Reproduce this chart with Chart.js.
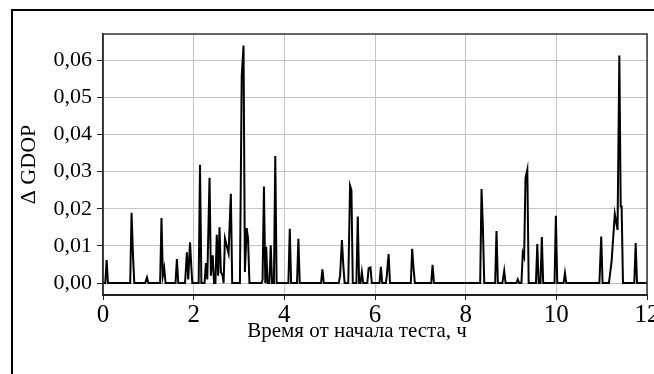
<!DOCTYPE html>
<html>
<head>
<meta charset="utf-8">
<script src="https://cdn.jsdelivr.net/npm/chart.js@4.4.1/dist/chart.umd.min.js"></script>
<style>
  html, body { margin: 0; padding: 0; background: #fff; }
  #wrap { width: 654px; height: 374px; position: relative; }
</style>
</head>
<body>
<div id="wrap"><canvas id="gdopChart" width="654" height="374"></canvas></div>
<script>
// time since test start, hours
const hours = [
  0, 0.05, 0.08, 0.11, 0.60, 0.63, 0.66, 0.69, 0.93, 0.97, 1.00,
  1.26, 1.29, 1.32, 1.35, 1.38, 1.60, 1.63, 1.66, 1.81, 1.85, 1.88, 1.92, 1.95, 1.97,
  2.11, 2.14, 2.17, 2.24, 2.27, 2.30, 2.35, 2.38, 2.42, 2.45, 2.48, 2.51, 2.54, 2.57,
  2.60, 2.64, 2.66, 2.69, 2.72, 2.77, 2.82, 2.85,
  3.02, 3.06, 3.10, 3.13, 3.17, 3.20, 3.23, 3.50, 3.52, 3.55, 3.58, 3.60, 3.63,
  3.67, 3.70, 3.73, 3.77, 3.80, 3.83,
  4.09, 4.12, 4.15, 4.28, 4.31, 4.34, 4.81, 4.84, 4.87,
  5.20, 5.23, 5.27, 5.30, 5.33, 5.41, 5.45, 5.48, 5.51, 5.59, 5.62, 5.65,
  5.68, 5.71, 5.74, 5.83, 5.86, 5.90, 5.93,
  6.10, 6.13, 6.16, 6.24, 6.26, 6.30, 6.33, 6.79, 6.82, 6.85, 6.88,
  7.24, 7.27, 7.30,
  8.32, 8.35, 8.38, 8.41, 8.65, 8.68, 8.71, 8.81, 8.85, 8.88,
  9.12, 9.15, 9.18, 9.23, 9.26, 9.29, 9.32, 9.36, 9.39, 9.55, 9.58, 9.61,
  9.65, 9.68, 9.71, 9.96, 9.99, 10.02,
  10.16, 10.19, 10.22, 10.95, 10.99, 11.02,
  11.16, 11.22, 11.29, 11.35, 11.39, 11.42, 11.44, 11.47, 11.72, 11.75, 11.78, 12
];

// Δ GDOP values
const deltaGdop = [
  0, 0, 0.0062, 0, 0, 0.0189, 0.008, 0, 0, 0.0015, 0,
  0, 0.0175, 0.002, 0.004, 0, 0, 0.0065, 0, 0, 0.0083, 0.001, 0.011, 0.004, 0,
  0, 0.0318, 0, 0, 0.0054, 0.001, 0.0283, 0.002, 0.0075, 0, 0, 0.013, 0.002, 0.015,
  0.003, 0.002, 0, 0.012, 0.0105, 0.008, 0.024, 0,
  0, 0.0556, 0.0639, 0.003, 0.0148, 0.012, 0, 0, 0.001, 0.026, 0, 0.0098, 0,
  0, 0.0102, 0, 0, 0.0342, 0,
  0, 0.0146, 0, 0, 0.0119, 0, 0, 0.0037, 0,
  0, 0.002, 0.0116, 0.005, 0, 0, 0.0262, 0.025, 0, 0, 0.0179, 0,
  0, 0.003, 0, 0, 0.004, 0.0042, 0,
  0, 0.0044, 0, 0, 0.002, 0.0078, 0, 0, 0.0092, 0.004, 0,
  0, 0.0049, 0,
  0, 0.0253, 0.015, 0, 0, 0.014, 0, 0, 0.0033, 0,
  0, 0.001, 0, 0, 0.0081, 0.007, 0.0283, 0.0305, 0, 0, 0.0105, 0,
  0, 0.0124, 0, 0, 0.0181, 0,
  0, 0.0027, 0, 0, 0.0125, 0,
  0, 0.006, 0.0186, 0.0143, 0.0612, 0.0206, 0.0206, 0, 0, 0.0108, 0, 0
];

const xTicks = [0, 2, 4, 6, 8, 10, 12];
const yTicks = [0, 0.01, 0.02, 0.03, 0.04, 0.05, 0.06];
const xTitle = 'Время от начала теста, ч';

const serif = 'Liberation Serif, Times New Roman, serif';

// outer frame, plot border, x-axis title (sits a bit left of centre in the original)
const framePlugin = {
  id: 'frame',
  beforeDraw(chart) {
    const ctx = chart.ctx;
    ctx.save();
    ctx.fillStyle = '#fff';
    ctx.fillRect(0, 0, chart.width, chart.height);
    ctx.strokeStyle = '#000';
    ctx.lineWidth = 2;
    ctx.strokeRect(12, 10, 700, 420);
    ctx.restore();
  },
  afterDatasetsDraw(chart) {
    const a = chart.chartArea;
    const ctx = chart.ctx;
    ctx.save();
    ctx.strokeStyle = '#333';
    ctx.lineWidth = 1.5;
    ctx.beginPath();
    ctx.moveTo(a.left, a.bottom);
    ctx.lineTo(a.left, a.top);
    ctx.lineTo(a.right, a.top);
    ctx.lineTo(a.right, a.bottom);
    ctx.stroke();

    ctx.fillStyle = '#000';
    ctx.font = '21px ' + serif;
    ctx.textAlign = 'center';
    ctx.textBaseline = 'middle';
    ctx.fillText(xTitle, a.left + (a.right - a.left) * 0.467, 331);
    ctx.restore();
  }
};

const ctx = document.getElementById('gdopChart').getContext('2d');
new Chart(ctx, {
  type: 'line',
  data: {
    datasets: [{
      data: hours.map((h, i) => ({ x: h, y: deltaGdop[i] })),
      borderColor: '#000',
      borderWidth: 2,
      pointRadius: 0,
      tension: 0,
      fill: false
    }]
  },
  options: {
    responsive: false,
    animation: false,
    layout: { padding: { left: 12, top: 34, right: 7, bottom: 0 } },
    plugins: { legend: { display: false }, tooltip: { enabled: false } },
    scales: {
      x: {
        type: 'linear',
        min: 0,
        max: 12,
        afterBuildTicks: (s) => { s.ticks = xTicks.map(v => ({ value: v })); },
        afterFit: (s) => { s.height = 79; s.paddingLeft = 0; s.paddingRight = 0; },
        ticks: { color: '#000', font: { family: serif, size: 25 }, padding: 0, maxRotation: 0 },
        grid: { color: '#c4c4c4', lineWidth: 1, tickColor: '#222', tickLength: 5 },
        border: { color: '#222', width: 2 }
      },
      y: {
        min: -0.0032,
        max: 0.067,
        afterBuildTicks: (s) => { s.ticks = yTicks.map(v => ({ value: v })); },
        afterFit: (s) => { s.width = 91; },
        ticks: {
          color: '#000',
          font: { family: serif, size: 22 },
          padding: 5,
          callback: (v) => v.toFixed(2).replace('.', ',')
        },
        grid: { color: '#c4c4c4', lineWidth: 1, tickColor: '#222', tickLength: 6 },
        border: { color: '#222', width: 1.5 },
        title: {
          display: true,
          text: 'Δ GDOP',
          color: '#000',
          font: { family: serif, size: 22 },
          padding: { top: 4, bottom: 0 }
        }
      }
    }
  },
  plugins: [framePlugin]
});
</script>
</body>
</html>
